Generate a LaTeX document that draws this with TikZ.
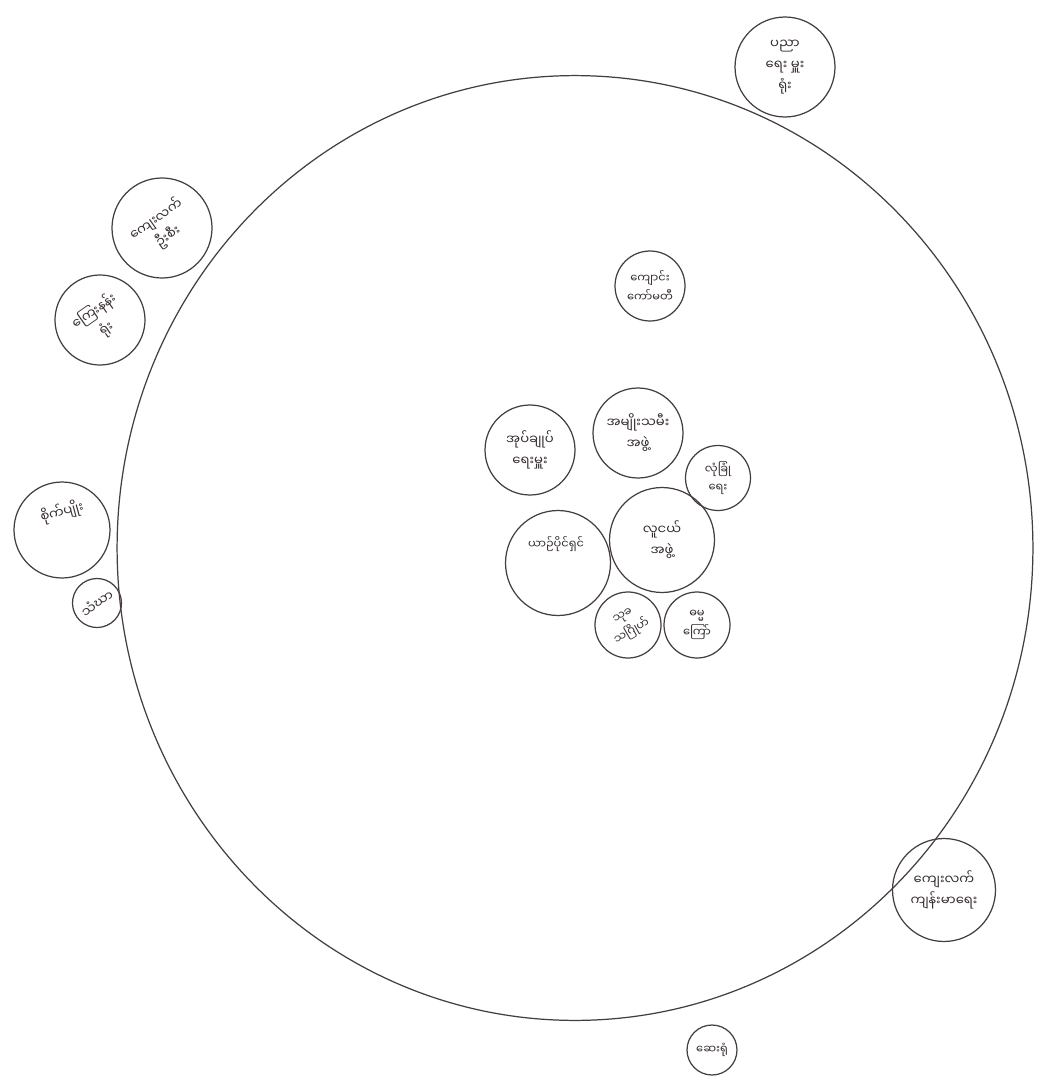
\documentclass[tikz,border=0pt]{standalone}
\usepackage{fontspec}
\newfontfamily\mmfont[Script=Myanmar]{Noto Sans Myanmar UI}
\usetikzlibrary{shapes.geometric}
\definecolor{pen}{RGB}{70,62,62}
\definecolor{ink}{RGB}{55,45,45}
\begin{document}
\begin{tikzpicture}[x=0.02cm,y=-0.02cm,
  bub/.style={draw=pen, line width=0.7pt, circle, inner sep=0pt, align=center,
    text=ink, font=\mmfont\fontsize{7.5}{12}\selectfont},
  small/.style={font=\mmfont\fontsize{6.5}{10.5}\selectfont},
  lbl/.style={align=center, text=ink, inner sep=0pt, font=\mmfont\fontsize{7.5}{12}\selectfont},
  big/.style={draw=pen, line width=0.7pt, ellipse, inner sep=0pt}]
\useasboundingbox[fill=white] (0,0) rectangle (1037,1088);
% the village
\node[big, minimum width=18.32cm, minimum height=18.9cm] (village) at (575,548) {};
% outside
\node[bub, minimum size=2.0cm] (edu) at (785,67) {ပညာ\\ရေး မှူး\\ရုံး};
\node[bub, minimum size=2.0cm, rotate=35] (rural) at (162,228) {ကျေးလက်\\ဦးစီး};
\node[bub, minimum size=1.8cm, rotate=35] (tele) at (100,320) {ကြေးနန်း\\ရုံး};
\node[bub, minimum size=1.92cm] (agri) at (62,530) {};
\node[lbl, rotate=15] (agriT) at (62,512) {စိုက်ပျိုး};
\node[bub, minimum size=0.98cm, rotate=35] (monk) at (97,603) {သံဃာ};
\node[bub, minimum size=2.06cm] (health) at (944,890) {ကျေးလက်\\ကျန်းမာရေး};
\node[bub, small, minimum size=1.0cm] (hosp) at (712,1050) {ဆေးရုံ};
% inside
\node[bub, small, minimum size=1.4cm] (school) at (650,286) {ကျောင်း\\ကော်မတီ};
\node[bub, minimum size=1.8cm] (admin) at (530,450) {အုပ်ချုပ်\\ရေးမှူး};
\node[bub, minimum size=1.8cm] (women) at (638,433) {အမျိုးသမီး\\အဖွဲ့};
\node[bub, small, minimum size=1.3cm] (secur) at (718,478) {လုံခြုံ\\ရေး};
\node[bub, minimum size=2.1cm] (car) at (558,563) {};
\node[lbl, small] (carT) at (556,544) {ယာဉ်ပိုင်ရှင်};
\node[bub, minimum size=2.1cm] (youth) at (662,540) {လူငယ်\\အဖွဲ့};
\node[bub, small, minimum size=1.32cm, rotate=30] (funer) at (628,625) {သုခ\\သဂြိုဟ်};
\node[bub, small, minimum size=1.32cm] (dham) at (697,625) {ဓမ္မ\\ကြော်};
\end{tikzpicture}
\end{document}
